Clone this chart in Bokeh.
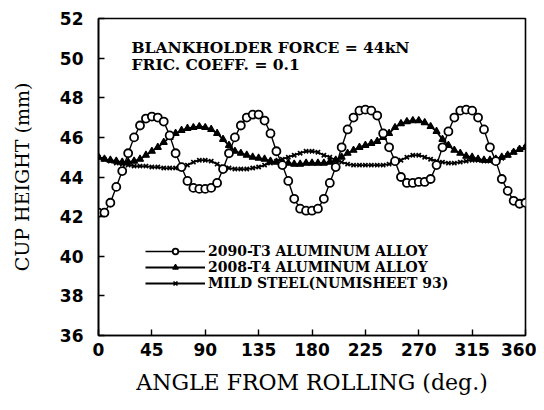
from bokeh.plotting import figure
from bokeh.models import Legend, LegendItem, Label, FixedTicker, ColumnDataSource
from bokeh.embed import file_html
from bokeh.resources import INLINE

angle = list(range(0, 361, 5))

al2090_t3 = [42.2, 42.2, 42.7, 43.5, 44.3, 45.2, 46.0, 46.6, 46.95, 47.05, 47.0, 46.8, 46.1,
             45.2, 44.5, 43.8, 43.45, 43.4, 43.4, 43.45, 43.7, 44.4, 45.2, 46.0, 46.6,
             47.0, 47.15, 47.15, 46.85, 46.2, 45.3, 44.6, 43.8, 42.9, 42.4, 42.3, 42.3,
             42.4, 42.9, 43.7, 44.5, 45.5, 46.4, 47.0, 47.35, 47.4, 47.35, 47.1, 46.2,
             45.5, 44.8, 44.0, 43.7, 43.7, 43.75, 43.75, 43.9, 44.6, 45.5, 46.3, 47.0,
             47.35, 47.4, 47.35, 47.0, 46.4, 45.5, 44.8, 43.9, 43.3, 42.8, 42.65, 42.7]

al2008_t4 = [45.0, 44.9, 44.85, 44.8, 44.75, 44.75, 44.8, 44.9, 45.1, 45.3, 45.5, 45.75, 46.0,
             46.2, 46.35, 46.45, 46.5, 46.55, 46.5, 46.4, 46.2, 45.9, 45.6, 45.3, 45.2,
             45.1, 45.0, 44.95, 44.9, 44.8, 44.75, 44.7, 44.7, 44.65, 44.65, 44.7, 44.7,
             44.7, 44.7, 44.75, 44.85, 45.0, 45.2, 45.35, 45.5, 45.6, 45.7, 45.8, 46.0,
             46.2, 46.5, 46.7, 46.8, 46.85, 46.85, 46.75, 46.55, 46.3, 45.9, 45.6, 45.35,
             45.2, 45.05, 45.0, 44.9, 44.85, 44.85, 44.9, 45.0, 45.1, 45.25, 45.4, 45.5]

mild_steel = [45.0, 44.9, 44.8, 44.7, 44.65, 44.6, 44.55, 44.55, 44.55, 44.5, 44.5, 44.45, 44.45,
              44.45, 44.5, 44.6, 44.75, 44.85, 44.85, 44.8, 44.65, 44.5, 44.45, 44.4, 44.4,
              44.4, 44.45, 44.5, 44.6, 44.7, 44.8, 44.9, 45.0, 45.1, 45.2, 45.3, 45.3,
              45.25, 45.1, 45.0, 44.85, 44.75, 44.65, 44.6, 44.6, 44.6, 44.6, 44.6, 44.6,
              44.65, 44.7, 44.85, 45.0, 45.1, 45.1, 45.0, 44.9, 44.8, 44.75, 44.7, 44.7,
              44.75, 44.8, 44.85, 44.85, 44.8, 44.8, 44.85, 44.95, 45.1, 45.25, 45.4, 45.5]

x_ticks = [0, 45, 90, 135, 180, 225, 270, 315, 360]
y_ticks = [36, 38, 40, 42, 44, 46, 48, 50, 52]
series_names = ["2090-T3 ALUMINUM ALLOY", "2008-T4 ALUMINUM ALLOY", "MILD STEEL(NUMISHEET 93)"]

src = ColumnDataSource(dict(angle=angle, a=al2090_t3, b=al2008_t4, c=mild_steel))

p = figure(width=536, height=402, output_backend="svg", toolbar_location=None,
           x_range=(0, 360), y_range=(36, 52),
           min_border_left=98, min_border_right=11, min_border_top=18, min_border_bottom=67)

SERIF = "DejaVu Serif"
SANS = "DejaVu Sans"

# curves
lc = p.line("angle", "c", source=src, line_color="black", line_width=1.8)
sc = p.scatter("angle", "c", source=src, marker="x", size=6, line_color="black", line_width=1.7)
lb = p.line("angle", "b", source=src, line_color="black", line_width=1.8)
sb = p.scatter("angle", "b", source=src, marker="triangle", size=7, fill_color="black",
               line_color="black", line_width=1.2)
la = p.line("angle", "a", source=src, line_color="black", line_width=1.4)
sa = p.scatter("angle", "a", source=src, marker="circle", size=8, fill_color="white",
               line_color="black", line_width=1.8)

p.grid.visible = False
p.outline_line_color = "black"
p.outline_line_width = 1.6
p.background_fill_color = "white"
p.border_fill_color = "white"

for ax in (p.xaxis[0], p.yaxis[0]):
    ax.axis_line_color = "black"
    ax.axis_line_width = 1.6
    ax.major_tick_in = 6
    ax.major_tick_out = 0
    ax.minor_tick_line_color = None
    ax.major_tick_line_width = 1.4
    ax.major_label_text_font = SANS
    ax.major_label_text_font_style = "bold"
    ax.major_label_text_font_size = "17px"
    ax.major_label_text_color = "black"
    ax.axis_label_text_font = SERIF
    ax.axis_label_text_font_style = "normal"
    ax.axis_label_text_color = "black"

p.xaxis.ticker = FixedTicker(ticks=x_ticks)
p.yaxis.ticker = FixedTicker(ticks=y_ticks)
p.xaxis.major_label_standoff = 7
p.yaxis.major_label_standoff = 15
p.xaxis.axis_label = "ANGLE FROM ROLLING (deg.)"
p.yaxis.axis_label = "CUP HEIGHT (mm)"
p.xaxis.axis_label_text_font_size = "22px"
p.yaxis.axis_label_text_font_size = "19px"
p.xaxis.axis_label_standoff = 11
p.yaxis.axis_label_standoff = 24

legend_rows = [(series_names[0], [la, sa], 76),
               (series_names[1], [lb, sb], 60),
               (series_names[2], [lc, sc], 44)]
for name, rends, ypos in legend_rows:
    lg = Legend(items=[LegendItem(label=name, renderers=rends)],
                location=(47, ypos), glyph_width=60, glyph_height=14, label_height=14,
                spacing=0, label_standoff=3, padding=0, margin=0,
                border_line_alpha=0, background_fill_alpha=0,
                label_text_font=SERIF, label_text_font_style="bold",
                label_text_font_size="14px", label_text_color="black")
    p.add_layout(lg, "center")

p.add_layout(Label(x=33, y=288, x_units="screen", y_units="screen",
                   text="BLANKHOLDER FORCE = 44kN", text_font=SERIF, text_font_style="bold",
                   text_font_size="15.5px", text_color="black", text_baseline="middle"))
p.add_layout(Label(x=33, y=271, x_units="screen", y_units="screen",
                   text="FRIC. COEFF. = 0.1", text_font=SERIF, text_font_style="bold",
                   text_font_size="15.5px", text_color="black", text_baseline="middle"))

open("out.html", "w").write(file_html(p, INLINE))
